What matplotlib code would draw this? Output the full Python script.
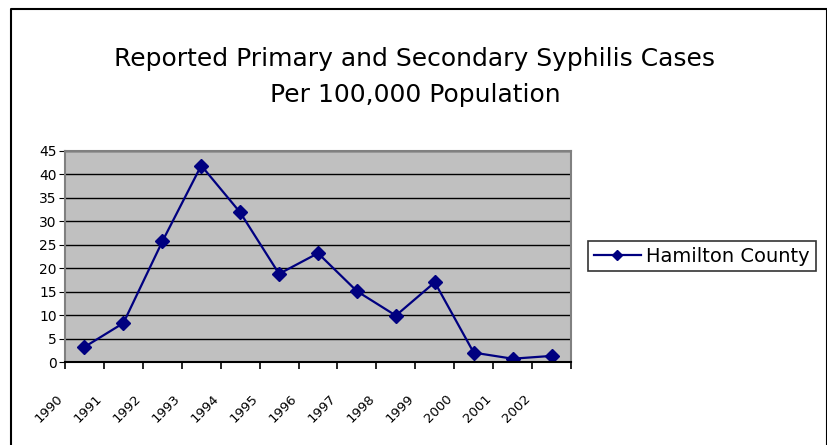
import numpy as np
import matplotlib
matplotlib.use('Agg')
import matplotlib.pyplot as plt
from matplotlib.lines import Line2D
from matplotlib.transforms import ScaledTranslation

years = ['1990', '1991', '1992', '1993', '1994', '1995', '1996',
         '1997', '1998', '1999', '2000', '2001', '2002']
rates = [3.2, 8.3, 25.7, 41.9, 31.9, 18.8, 23.2, 15.1, 9.9, 17.0, 2.0, 0.7, 1.3]
series_name = 'Hamilton County'
title = 'Reported Primary and Secondary Syphilis Cases\nPer 100,000 Population'

plt.rcParams['font.family'] = ['DejaVu Sans']

fig = plt.figure(figsize=(8.28, 4.45), dpi=100)
ax = fig.add_axes([65 / 828, 83 / 445, 506 / 828, 211 / 445])

x = np.arange(len(years))
line, = ax.plot(x, rates, color='#000080', lw=1.6, marker='D', markersize=7,
                markerfacecolor='#000080', markeredgecolor='#000080', label=series_name)

ax.set_facecolor('#C0C0C0')
ax.set_xlim(-0.5, len(years) - 0.5)
ax.set_ylim(0, 45)
ax.set_yticks(np.arange(0, 46, 5))
ax.yaxis.grid(True, color='black', lw=1)
ax.set_axisbelow(True)
ax.tick_params(axis='y', labelsize=10, length=4, direction='out', pad=2, colors='black')

# tick marks on category boundaries, labels hang off the boundary too
ax.set_xticks(np.arange(len(years) + 1) - 0.5)
ax.set_xticklabels(years + [''], rotation=45, ha='right', va='top',
                   rotation_mode='anchor', fontsize=9.5)
ax.tick_params(axis='x', length=5, width=1.2, direction='out', pad=17)
shift = ScaledTranslation(-6 / 72, 0, fig.dpi_scale_trans)
for lbl in ax.get_xticklabels():
    lbl.set_transform(lbl.get_transform() + shift)

for side in ['top', 'right', 'left']:
    ax.spines[side].set_color('#808080')
    ax.spines[side].set_linewidth(1.5)
ax.spines['bottom'].set_color('black')
ax.spines['bottom'].set_linewidth(1.5)

fig.text(415 / 828, 1 - 77 / 445, title, ha='center', va='center',
         fontsize=18, linespacing=1.65)

leg = fig.legend(handles=[line], loc='center left', bbox_to_anchor=(588 / 828, 1 - 256 / 445),
                 fontsize=14, frameon=True, fancybox=False, handlelength=2.4,
                 handletextpad=0.3, borderpad=0.3, borderaxespad=0, markerscale=0.8)
leg.get_frame().set_edgecolor('black')
leg.get_frame().set_linewidth(1.2)

# outer chart border (left, top, right)
bx0, bx1, by = 11 / 828, 827 / 828, 1 - 9 / 445
fig.add_artist(Line2D([bx0, bx0, bx1, bx1], [0, by, by, 0], color='black', lw=1.5,
                      transform=fig.transFigure))

fig.savefig('out.png', dpi=100)
